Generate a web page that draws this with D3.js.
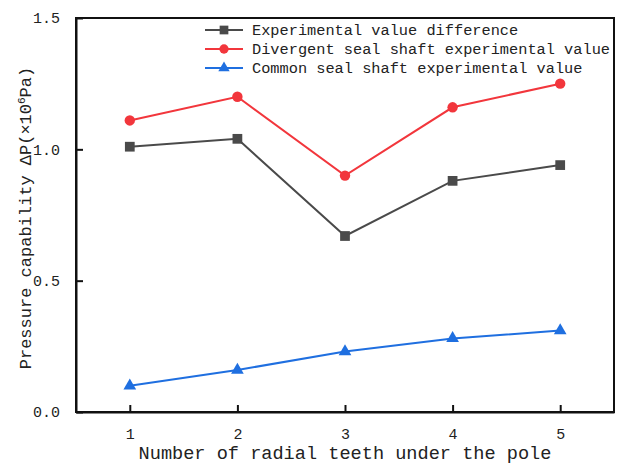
<!DOCTYPE html>
<html>
<head>
<meta charset="utf-8">
<script src="https://cdn.jsdelivr.net/npm/d3@7/dist/d3.min.js"></script>
<style>
  html, body { margin: 0; padding: 0; background: #fff; }
  svg { display: block; }
  text { font-family: "Liberation Mono", "DejaVu Sans Mono", monospace; fill: #222; }
</style>
</head>
<body>
<svg id="chart" width="622" height="465"></svg>
<script>
// Number of radial teeth under the pole
const teeth = [1, 2, 3, 4, 5];
// Pressure capability, ×10^6 Pa
const divergentValues = [1.11, 1.20, 0.90, 1.16, 1.25];
const commonValues = [0.10, 0.16, 0.23, 0.28, 0.31];
const differenceValues = [1.01, 1.04, 0.67, 0.88, 0.94];
const yTicks = [0.0, 0.5, 1.0, 1.5];

const seriesNames = [
  "Experimental value difference",
  "Divergent seal shaft experimental value",
  "Common seal shaft experimental value"
];

const series = [
  { name: seriesNames[0], values: differenceValues, color: "#4a4a4a", symbol: d3.symbolSquare, size: 95 },
  { name: seriesNames[1], values: divergentValues, color: "#f2363c", symbol: d3.symbolCircle, size: 85 },
  { name: seriesNames[2], values: commonValues, color: "#1f6fe0", symbol: d3.symbolTriangle, size: 70 }
];

const svg = d3.select("#chart");
const margin = { left: 76, right: 8, top: 18, bottom: 53 };
const W = 622, H = 465;

const x = d3.scaleLinear().domain([0.5, 5.5]).range([margin.left, W - margin.right]);
const y = d3.scaleLinear().domain([0, 1.5]).range([H - margin.bottom, margin.top]);

// frame
svg.append("rect")
  .attr("x", x.range()[0]).attr("y", y.range()[1])
  .attr("width", x.range()[1] - x.range()[0])
  .attr("height", y.range()[0] - y.range()[1])
  .attr("fill", "none").attr("stroke", "#111").attr("stroke-width", 2);

// axes with inward ticks
const xAxis = svg.append("g")
  .attr("transform", `translate(0,${y.range()[0]})`)
  .call(d3.axisBottom(x).tickValues(teeth).tickFormat(d3.format("d")).tickSizeInner(-7).tickSizeOuter(0).tickPadding(16));
xAxis.select(".domain").attr("stroke", "#111").attr("stroke-width", 2);
xAxis.selectAll(".tick line").attr("stroke", "#111").attr("stroke-width", 2);
xAxis.selectAll(".tick text").attr("font-size", 15).attr("fill", "#222")
  .attr("font-family", "Liberation Mono, DejaVu Sans Mono, monospace");

const yAxis = svg.append("g")
  .attr("transform", `translate(${x.range()[0]},0)`)
  .call(d3.axisLeft(y).tickValues(yTicks).tickFormat(d3.format(".1f")).tickSizeInner(-7).tickSizeOuter(0).tickPadding(16));
yAxis.select(".domain").attr("stroke", "#111").attr("stroke-width", 2);
yAxis.selectAll(".tick line").attr("stroke", "#111").attr("stroke-width", 2);
yAxis.selectAll(".tick text").attr("font-size", 15).attr("fill", "#222")
  .attr("font-family", "Liberation Mono, DejaVu Sans Mono, monospace");

// axis titles
svg.append("text")
  .attr("x", (x.range()[0] + x.range()[1]) / 2)
  .attr("y", 459)
  .attr("text-anchor", "middle")
  .attr("font-size", 18.6)
  .text("Number of radial teeth under the pole");

const yTitle = svg.append("text")
  .attr("transform", `translate(31,${(y.range()[0] + y.range()[1]) / 2 + 3}) rotate(-90)`)
  .attr("text-anchor", "middle")
  .attr("font-size", 17);
yTitle.append("tspan").text("Pressure capability ΔP(×10");
yTitle.append("tspan").attr("dy", -6).attr("font-size", 11).text("6");
yTitle.append("tspan").attr("dy", 6).text("Pa)");

// series lines and markers
const line = d3.line().x((d, i) => x(teeth[i])).y(d => y(d));
series.forEach(s => {
  svg.append("path")
    .datum(s.values)
    .attr("d", line)
    .attr("fill", "none")
    .attr("stroke", s.color)
    .attr("stroke-width", 2);
  svg.append("g").selectAll("path")
    .data(s.values)
    .join("path")
    .attr("transform", (d, i) => `translate(${x(teeth[i])},${y(d)})`)
    .attr("d", d3.symbol().type(s.symbol).size(s.size))
    .attr("fill", s.color);
});

// legend
const legend = svg.append("g");
series.forEach((s, i) => {
  const ly = 30 + i * 19;
  legend.append("line")
    .attr("x1", 205).attr("x2", 243).attr("y1", ly).attr("y2", ly)
    .attr("stroke", s.color).attr("stroke-width", 2);
  legend.append("path")
    .attr("transform", `translate(224,${ly})`)
    .attr("d", d3.symbol().type(s.symbol).size(s.size * 0.8))
    .attr("fill", s.color);
  legend.append("text")
    .attr("x", 252).attr("y", ly + 5)
    .attr("font-size", 15.3)
    .text(s.name);
});
</script>
</body>
</html>
